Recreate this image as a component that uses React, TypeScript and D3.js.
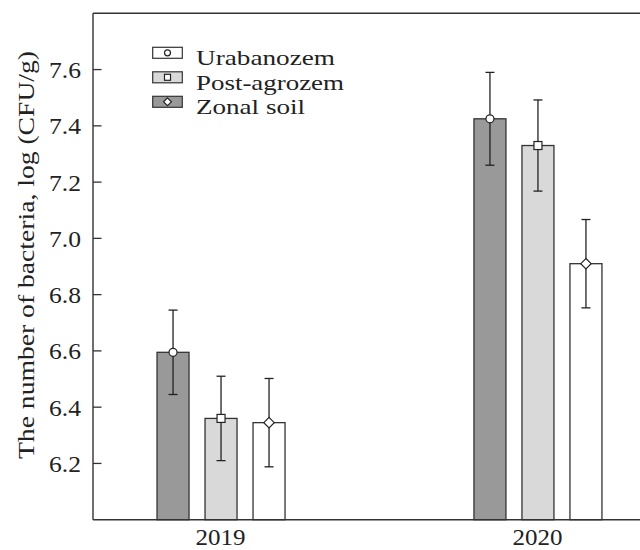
import React from "react";
import * as d3 from "d3";

const years = [2019, 2020];
const yearLabels = ["2019", "2020"];
const seriesNames = ["Urabanozem", "Post-agrozem", "Zonal soil"];
const seriesMarkers = ["circle", "square", "diamond"];
const barFills = ["#999999", "#d9d9d9", "#ffffff"];
const legendFills = ["#ffffff", "#d9d9d9", "#999999"];
const urabanozemMean = [6.595, 7.425];
const urabanozemErr = [0.15, 0.165];
const postAgrozemMean = [6.36, 7.33];
const postAgrozemErr = [0.15, 0.162];
const zonalMean = [6.345, 6.91];
const zonalErr = [0.157, 0.157];
const yTicks = [6.2, 6.4, 6.6, 6.8, 7.0, 7.2, 7.4, 7.6];

const W = 640, H = 550;
const M = { left: 93, top: 13.3, right: 640, bottom: 519.7 };
const FONT = "Liberation Serif, Times New Roman, Times, serif";
const INK = "#222";
const txt = { fontFamily: FONT };

function Marker({ type, cx, cy, size }: { type: string; cx: number; cy: number; size: number }) {
  if (type === "circle") return <circle cx={cx} cy={cy} r={size / 2} fill="#fff" stroke={INK} strokeWidth={1.2} />;
  if (type === "square") return <rect x={cx - size / 2} y={cy - size / 2} width={size} height={size} fill="#fff" stroke={INK} strokeWidth={1.2} />;
  const h = size * 0.65;
  return <path d={`M${cx},${cy - h} L${cx + h},${cy} L${cx},${cy + h} L${cx - h},${cy} Z`} fill="#fff" stroke={INK} strokeWidth={1.2} />;
}

export default function App() {
  const means = [urabanozemMean, postAgrozemMean, zonalMean];
  const errs = [urabanozemErr, postAgrozemErr, zonalErr];
  const y = d3.scaleLinear().domain([6.0, 7.8]).range([M.bottom, M.top]);
  const x = d3.scaleLinear().domain([2018.596, 2020.322]).range([M.left, M.right]);
  const inner = d3.scaleBand<number>().domain([0, 1, 2]).range([-64, 64]).paddingInner(1 / 3).paddingOuter(0);
  const bw = inner.bandwidth();

  return (
    <svg width={W} height={H} style={{ position: "absolute", left: 0, top: 0, background: "#fff" }}>
      <rect x={0} y={0} width={W} height={H} fill="#fff" />
      {years.map((yr, gi) =>
        seriesNames.map((_, si) => {
          const cx = x(yr) + (inner(si) as number) + bw / 2;
          const v = means[si][gi];
          const e = errs[si][gi];
          return (
            <g key={`${gi}-${si}`}>
              <rect x={cx - bw / 2} y={y(v)} width={bw} height={y(6.0) - y(v)} fill={barFills[si]} stroke="#333" strokeWidth={1.3} />
              <line x1={cx} x2={cx} y1={y(v + e)} y2={y(v - e)} stroke={INK} strokeWidth={1.3} />
              <line x1={cx - 4.5} x2={cx + 4.5} y1={y(v + e)} y2={y(v + e)} stroke={INK} strokeWidth={1.3} />
              <line x1={cx - 4.5} x2={cx + 4.5} y1={y(v - e)} y2={y(v - e)} stroke={INK} strokeWidth={1.3} />
              <Marker type={seriesMarkers[si]} cx={cx} cy={y(v)} size={8} />
            </g>
          );
        })
      )}
      <line x1={M.left} x2={M.left} y1={M.top} y2={M.bottom} stroke="#333" strokeWidth={1.4} />
      <line x1={M.left} x2={M.right} y1={M.top} y2={M.top} stroke="#333" strokeWidth={1.4} />
      <line x1={M.left} x2={M.right} y1={M.bottom} y2={M.bottom} stroke="#333" strokeWidth={1.4} />
      {yTicks.map((t) => (
        <g key={t}>
          <line x1={M.left} x2={M.left + 8.5} y1={y(t)} y2={y(t)} stroke="#333" strokeWidth={1.3} />
          <text x={81} y={y(t) + 8.5} textAnchor="end" style={txt} fontSize={24} fill={INK}
            textLength={32} lengthAdjust="spacingAndGlyphs">{d3.format(".1f")(t)}</text>
        </g>
      ))}
      {years.map((yr, i) => (
        <text key={yr} x={x(yr) - 0.5} y={545} textAnchor="middle" style={txt} fontSize={24} fill={INK}
          textLength={50} lengthAdjust="spacingAndGlyphs">{yearLabels[i]}</text>
      ))}
      <text transform={`translate(33.5,255) rotate(-90)`} textAnchor="middle" style={txt} fontSize={24} fill={INK}
        textLength={408} lengthAdjust="spacingAndGlyphs">The number of bacteria, log (CFU/g)</text>
      {seriesNames.map((name, i) => {
        const cy = 52.8 + i * 24.5;
        const widths = [139, 148, 109];
        return (
          <g key={name}>
            <rect x={152.7} y={cy - 5.5} width={29.6} height={11} fill={legendFills[i]} stroke="#333" strokeWidth={1.2} />
            <Marker type={seriesMarkers[i]} cx={167.5} cy={cy} size={6} />
            <text x={196} y={cy + 12.2} style={txt} fontSize={22} fill={INK}
              textLength={widths[i]} lengthAdjust="spacingAndGlyphs">{name}</text>
          </g>
        );
      })}
    </svg>
  );
}
